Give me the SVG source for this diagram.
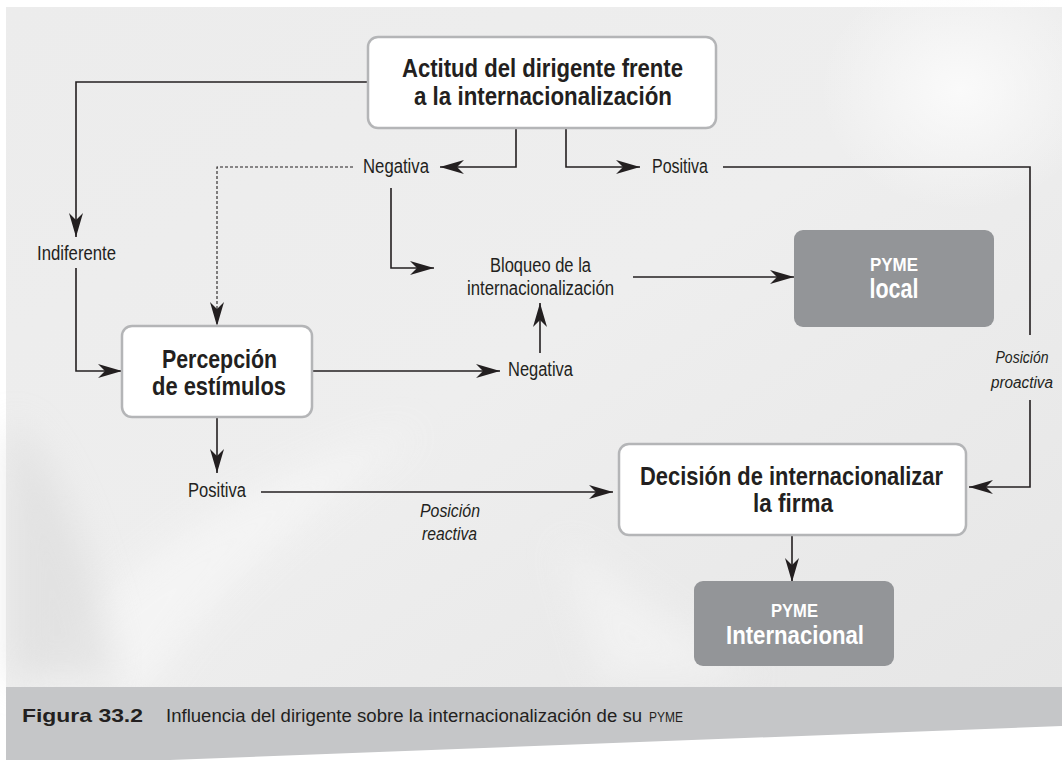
<svg xmlns="http://www.w3.org/2000/svg" width="1062" height="760" viewBox="0 0 1062 760">
<style>
.lbl{font-family:"Liberation Sans",Arial,sans-serif;font-size:20px;fill:#231f20;text-anchor:middle}
.it{font-family:"Liberation Sans",Arial,sans-serif;font-size:19px;font-style:italic;fill:#231f20;text-anchor:middle}
.it2{font-family:"Liberation Sans",Arial,sans-serif;font-size:16px;font-style:italic;fill:#231f20;text-anchor:middle}
.bt{font-family:"Liberation Sans",Arial,sans-serif;font-size:25px;font-weight:bold;fill:#231f20;text-anchor:middle}
.wt{font-family:"Liberation Sans",Arial,sans-serif;font-weight:bold;fill:#ffffff;text-anchor:middle}
.box{fill:#ffffff;stroke:#b4b5b7;stroke-width:2.5}
.gbox{fill:#939598}
.ln{fill:none;stroke:#231f20;stroke-width:1.6}
.dash{fill:none;stroke:#231f20;stroke-width:1.1;stroke-dasharray:3 2}
.cap{font-family:"Liberation Sans",Arial,sans-serif;fill:#231f20}
</style>
<defs>
<marker id="ah" viewBox="0 0 24 14" refX="24" refY="7" markerWidth="24" markerHeight="14" markerUnits="userSpaceOnUse" orient="auto">
<path d="M0,0 L24,7 L0,14 L7,7 Z" fill="#231f20"/>
</marker>
<linearGradient id="bg" x1="0" y1="0" x2="1" y2="1">
<stop offset="0" stop-color="#ececec"/>
<stop offset="0.5" stop-color="#eeeeee"/>
<stop offset="1" stop-color="#e6e6e6"/>
</linearGradient>
<radialGradient id="hl" cx="0.5" cy="0.5" r="0.5">
<stop offset="0" stop-color="#fafafa"/>
<stop offset="1" stop-color="#fafafa" stop-opacity="0"/>
</radialGradient>
<filter id="blur" x="-20%" y="-20%" width="140%" height="140%"><feGaussianBlur stdDeviation="18"/></filter>
</defs>
<rect x="0" y="0" width="1062" height="760" fill="#ffffff"/>
<g id="background">
<rect x="6" y="7" width="1056" height="680" fill="url(#bg)"/>
<ellipse cx="960" cy="90" rx="140" ry="120" fill="url(#hl)"/>
<path d="M20,690 C120,560 260,470 420,430 C300,520 200,600 150,690 Z" fill="#f6f6f6" filter="url(#blur)" opacity="0.8"/>
<path d="M10,420 C60,460 90,560 120,680 L10,680 Z" fill="#dadada" filter="url(#blur)" opacity="0.6"/>
<path d="M560,540 C650,600 700,640 760,680 L600,680 Z" fill="#f4f4f4" filter="url(#blur)" opacity="0.7"/>
</g>
<g id="caption">
<polygon points="6,687 1062,687 1062,726 170,760 6,760" fill="#c5c6c8"/>
<text class="cap" x="22" y="722" font-size="19" font-weight="bold" textLength="121" lengthAdjust="spacingAndGlyphs">Figura 33.2</text>
<text class="cap" x="166" y="722" font-size="17.5" textLength="476" lengthAdjust="spacingAndGlyphs">Influencia del dirigente sobre la internacionalización de su</text>
<text class="cap" x="649" y="722" font-size="14" textLength="34" lengthAdjust="spacingAndGlyphs">PYME</text>
</g>
<g id="connectors">
<path class="ln" d="M368,82 H76 V237" marker-end="url(#ah)"/>
<path class="ln" d="M76,268 V371 H122" marker-end="url(#ah)"/>
<path class="ln" d="M516,128 V167 H440" marker-end="url(#ah)"/>
<path class="ln" d="M566,128 V167 H640" marker-end="url(#ah)"/>
<path class="dash" d="M353,167 H217 V326" marker-end="url(#ah)"/>
<path class="ln" d="M391,188 V268 H434" marker-end="url(#ah)"/>
<path class="ln" d="M633,277 H794" marker-end="url(#ah)"/>
<path class="ln" d="M312,371 H500" marker-end="url(#ah)"/>
<path class="ln" d="M540,353 V303" marker-end="url(#ah)"/>
<path class="ln" d="M217,417 V473" marker-end="url(#ah)"/>
<path class="ln" d="M261,492 H613" marker-end="url(#ah)"/>
<path class="ln" d="M723,167 H1030 V335"/>
<path class="ln" d="M1030,400 V487 H969" marker-end="url(#ah)"/>
<path class="ln" d="M792,535 V582" marker-end="url(#ah)"/>
</g>
<g id="actitud">
<rect class="box" x="368" y="37" width="348" height="91" rx="10"/>
<text class="bt" x="542.5" y="77" textLength="281" lengthAdjust="spacingAndGlyphs">Actitud del dirigente frente</text>
<text class="bt" x="543" y="105" textLength="258" lengthAdjust="spacingAndGlyphs">a la internacionalización</text>
</g>
<g id="negativa1"><text class="lbl" x="396" y="173" textLength="66" lengthAdjust="spacingAndGlyphs">Negativa</text></g>
<g id="positiva1"><text class="lbl" x="680" y="173" textLength="56" lengthAdjust="spacingAndGlyphs">Positiva</text></g>
<g id="indiferente"><text class="lbl" x="76.5" y="260" textLength="79" lengthAdjust="spacingAndGlyphs">Indiferente</text></g>
<g id="bloqueo">
<text class="lbl" x="540.5" y="272" textLength="101" lengthAdjust="spacingAndGlyphs">Bloqueo de la</text>
<text class="lbl" x="540.5" y="295" textLength="147" lengthAdjust="spacingAndGlyphs">internacionalización</text>
</g>
<g id="pyme-local">
<rect class="gbox" x="794" y="230" width="200" height="97" rx="9"/>
<text class="wt" x="894" y="271" font-size="19" textLength="48" lengthAdjust="spacingAndGlyphs">PYME</text>
<text class="wt" x="894" y="298" font-size="27" textLength="49" lengthAdjust="spacingAndGlyphs">local</text>
</g>
<g id="proactiva">
<text class="it2" x="1022" y="363" textLength="53" lengthAdjust="spacingAndGlyphs">Posición</text>
<text class="it2" x="1022" y="388" textLength="62" lengthAdjust="spacingAndGlyphs">proactiva</text>
</g>
<g id="percepcion">
<rect class="box" x="122" y="326" width="190" height="91" rx="10"/>
<text class="bt" x="219.5" y="368" textLength="115" lengthAdjust="spacingAndGlyphs">Percepción</text>
<text class="bt" x="219" y="395" textLength="134" lengthAdjust="spacingAndGlyphs">de estímulos</text>
</g>
<g id="negativa2"><text class="lbl" x="540.5" y="376" textLength="65" lengthAdjust="spacingAndGlyphs">Negativa</text></g>
<g id="positiva2"><text class="lbl" x="217" y="497" textLength="58" lengthAdjust="spacingAndGlyphs">Positiva</text></g>
<g id="reactiva">
<text class="it" x="450" y="517" textLength="60" lengthAdjust="spacingAndGlyphs">Posición</text>
<text class="it" x="449.5" y="540" textLength="55" lengthAdjust="spacingAndGlyphs">reactiva</text>
</g>
<g id="decision">
<rect class="box" x="619" y="444" width="347" height="91" rx="10"/>
<text class="bt" x="791.5" y="485" textLength="303" lengthAdjust="spacingAndGlyphs">Decisión de internacionalizar</text>
<text class="bt" x="793" y="512" textLength="80" lengthAdjust="spacingAndGlyphs">la firma</text>
</g>
<g id="pyme-internacional">
<rect class="gbox" x="694" y="581" width="200" height="85" rx="9"/>
<text class="wt" x="794.5" y="617" font-size="19" textLength="47" lengthAdjust="spacingAndGlyphs">PYME</text>
<text class="wt" x="795" y="644" font-size="26" textLength="138" lengthAdjust="spacingAndGlyphs">Internacional</text>
</g>
</svg>
